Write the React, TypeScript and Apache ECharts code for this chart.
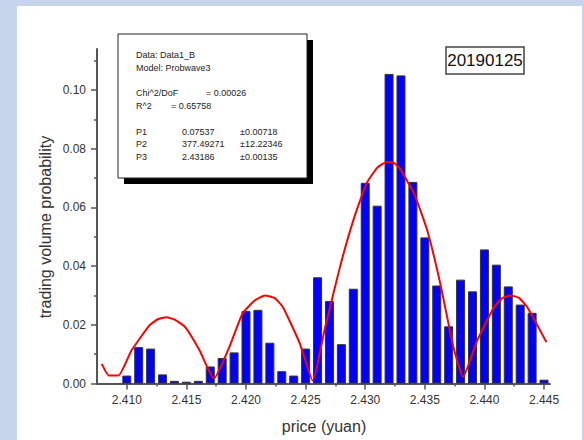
import React, { useEffect, useRef } from "react";
import * as echarts from "echarts";

const prices = [
  2.41, 2.411, 2.412, 2.413, 2.414, 2.415, 2.416, 2.417, 2.418, 2.419,
  2.42, 2.421, 2.422, 2.423, 2.424, 2.425, 2.426, 2.427, 2.428, 2.429,
  2.43, 2.431, 2.432, 2.433, 2.434, 2.435, 2.436, 2.437, 2.438, 2.439,
  2.44, 2.441, 2.442, 2.443, 2.444, 2.445,
];
const probabilities = [
  0.0027, 0.0124, 0.0119, 0.0031, 0.0009, 0.0006, 0.0009, 0.0058, 0.0087, 0.0106,
  0.0247, 0.0251, 0.0139, 0.0042, 0.0027, 0.0119, 0.0362, 0.0281, 0.0134, 0.0323,
  0.0684, 0.0606, 0.1055, 0.105, 0.0687, 0.0498, 0.0334, 0.0195, 0.0354, 0.0314,
  0.0457, 0.0405, 0.0331, 0.0269, 0.0241, 0.0013,
];
const fitPrices = [
  2.4079, 2.4085, 2.4093, 2.4104, 2.4119, 2.4126, 2.4133, 2.4141, 2.4149, 2.4161, 2.4173,
  2.4186, 2.4197, 2.4207, 2.4216, 2.4224, 2.4231, 2.4245, 2.4256, 2.4266, 2.4279, 2.429,
  2.4301, 2.431, 2.4318, 2.4324, 2.4329, 2.4341, 2.4352, 2.4363, 2.4374, 2.4382, 2.4394,
  2.4408, 2.4415, 2.4422, 2.4429, 2.4436, 2.4452,
];
const fitValues = [
  0.0067, 0.0027, 0.0027, 0.0113, 0.0198, 0.0219, 0.0226, 0.0216, 0.0192, 0.0113, 0.0016,
  0.0124, 0.0238, 0.0282, 0.03, 0.0291, 0.026, 0.0138, 0.0009, 0.0185, 0.04, 0.0556,
  0.0681, 0.0735, 0.0755, 0.0752, 0.0733, 0.0647, 0.0522, 0.034, 0.0124, 0.0022, 0.0147,
  0.026, 0.0291, 0.03, 0.0292, 0.026, 0.0141,
];
const xMajorTicks = [2.41, 2.415, 2.42, 2.425, 2.43, 2.435, 2.44, 2.445];
const xMinorTicks = [2.4125, 2.4175, 2.4225, 2.4275, 2.4325, 2.4375, 2.4425];
const yMajorTicks = [0, 0.02, 0.04, 0.06, 0.08, 0.1];
const yMinorTicks = [0.01, 0.03, 0.05, 0.07, 0.09, 0.11];

const FONT = "'Liberation Sans', Arial, sans-serif";

export default function App() {
  const ref = useRef<HTMLDivElement>(null);
  useEffect(() => {
    if (!ref.current) return;
    const chart = echarts.init(ref.current, undefined, { renderer: "svg" });
    const axisColor = "#555";
    const labelStyle = { color: "#333", fontSize: 12, fontFamily: FONT };
    const txt = (x: number, y: number, text: string) => ({
      type: "text",
      x,
      y,
      z: 101,
      style: { text, fill: "#222", font: `9px ${FONT}`, verticalAlign: "middle" },
    });
    chart.setOption({
      animation: false,
      grid: { left: 97, right: 34, top: 49, bottom: 56.5 },
      xAxis: [
        {
          type: "value",
          min: 2.4075,
          max: 2.4455,
          axisLine: { show: true, onZero: false, lineStyle: { color: axisColor, width: 2 } },
          axisTick: { show: true, customValues: xMajorTicks, length: 6, lineStyle: { color: axisColor, width: 1.5 } },
          axisLabel: { ...labelStyle, customValues: xMajorTicks, margin: 10, formatter: (v: number) => v.toFixed(3) },
          splitLine: { show: false },
        },
        {
          type: "value",
          min: 2.4075,
          max: 2.4455,
          position: "bottom",
          axisLine: { show: false },
          axisTick: { show: true, customValues: xMinorTicks, length: 3, lineStyle: { color: axisColor, width: 1.5 } },
          axisLabel: { show: false },
          splitLine: { show: false },
        },
      ],
      yAxis: [
        {
          type: "value",
          min: 0,
          max: 0.114,
          axisLine: { show: true, lineStyle: { color: axisColor, width: 2 } },
          axisTick: { show: true, customValues: yMajorTicks, length: 6, lineStyle: { color: axisColor, width: 1.5 } },
          axisLabel: { ...labelStyle, customValues: yMajorTicks, margin: 11, formatter: (v: number) => v.toFixed(2) },
          splitLine: { show: false },
        },
        {
          type: "value",
          min: 0,
          max: 0.114,
          position: "left",
          axisLine: { show: false },
          axisTick: { show: true, customValues: yMinorTicks, length: 3, lineStyle: { color: axisColor, width: 1.5 } },
          axisLabel: { show: false },
          splitLine: { show: false },
        },
      ],
      series: [
        {
          type: "bar",
          xAxisIndex: 0,
          yAxisIndex: 0,
          barWidth: 9,
          data: prices.map((p, i) => [p, probabilities[i]]),
          itemStyle: { color: "#0000ff", borderColor: "#333", borderWidth: 1 },
          z: 2,
        },
        {
          type: "line",
          xAxisIndex: 0,
          yAxisIndex: 0,
          data: fitPrices.map((p, i) => [p, fitValues[i]]),
          smooth: 0.15,
          showSymbol: false,
          lineStyle: { color: "#ff0000", width: 2 },
          z: 3,
        },
      ],
      graphic: [
        { type: "rect", z: 100, shape: { x: 124, y: 40, width: 189, height: 144 }, style: { fill: "#000" } },
        { type: "rect", z: 100, shape: { x: 118, y: 34, width: 189, height: 144 }, style: { fill: "#fff", stroke: "#222", lineWidth: 1 } },
        txt(136, 55, "Data: Data1_B"),
        txt(136, 68, "Model: Probwave3"),
        txt(136, 93, "Chi^2/DoF"),
        txt(206, 93, "= 0.00026"),
        txt(136, 106, "R^2"),
        txt(171, 106, "= 0.65758"),
        txt(136, 132, "P1"),
        txt(182, 132, "0.07537"),
        txt(240, 132, "±0.00718"),
        txt(136, 144, "P2"),
        txt(182, 144, "377.49271"),
        txt(240, 144, "±12.22346"),
        txt(136, 157, "P3"),
        txt(182, 157, "2.43186"),
        txt(240, 157, "±0.00135"),
        { type: "rect", z: 100, shape: { x: 446, y: 47, width: 78, height: 27 }, style: { fill: "#fff", stroke: "#444", lineWidth: 1.5 } },
        {
          type: "text", z: 101, x: 485, y: 60,
          style: { text: "20190125", fill: "#111", font: `17px ${FONT}`, align: "center", verticalAlign: "middle" },
        },
        {
          type: "text", z: 101, x: 324, y: 426,
          style: { text: "price (yuan)", fill: "#333", font: `16px ${FONT}`, align: "center", verticalAlign: "middle" },
        },
        {
          type: "text", z: 101, x: 45, y: 227, rotation: Math.PI / 2,
          style: { text: "trading volume probability", fill: "#333", font: `16px ${FONT}`, align: "center", verticalAlign: "middle" },
        },
      ],
    });
    return () => chart.dispose();
  }, []);
  return (
    <div style={{ position: "fixed", left: 0, top: 0, width: 584, height: 440, background: "#c6d4ec", overflow: "hidden" }}>
      <div style={{ position: "absolute", left: 17, top: 6, width: 565, height: 434, background: "#fff" }} />
      <div ref={ref} style={{ position: "absolute", left: 0, top: 0, width: 584, height: 440 }} />
    </div>
  );
}
